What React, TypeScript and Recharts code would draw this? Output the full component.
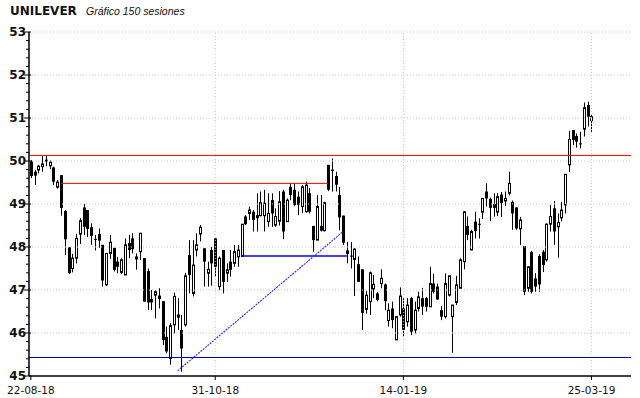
import { Bar, ComposedChart, ReferenceLine, XAxis, YAxis } from 'recharts'

// 150 sesiones, OHLC
const OPEN = [
  49.99, 49.75, 49.79, 49.87, 50.03, 49.89, 49.85, 49.39, 49.67, 48.84,
  47.99, 47.5, 47.74, 48.3, 48.92, 48.86, 48.46, 48.19, 48.3, 48.05,
  47.12, 47.85, 47.98, 47.66, 47.41, 47.35, 48.09, 48.2, 47.78, 47.89,
  47.74, 47.44, 46.79, 46.88, 46.87, 46.74, 45.91, 45.41, 46.19, 46.37,
  46.07, 46.19, 47.81, 46.92, 47.93, 48.3, 47.97, 47.39, 47.93, 48.2,
  47.08, 47.93, 47.39, 47.66, 47.62, 47.77, 47.78, 48.71, 48.78, 48.82,
  48.74, 48.73, 48.73, 48.59, 49.09, 48.51, 48.6, 49.29, 48.59, 49.4,
  49.33, 49.17, 48.94, 48.82, 49.25, 48.49, 48.16, 48.49, 48.38, 49.91,
  49.8, 49.65, 49.21, 48.73, 47.85, 47.8, 47.71, 47.6, 47.48, 46.55,
  46.73, 47.02, 46.92, 47.15, 47.13, 46.29, 46.57, 45.84, 46.42, 46.57,
  46.26, 46.81, 46.07, 46.57, 46.81, 46.81, 46.61, 47.15, 47.08, 46.53,
  46.38, 46.88, 46.38, 46.71, 47.04, 47.66, 48.49, 47.93, 48.59, 48.54,
  48.81, 49.29, 49.12, 49.0, 48.81, 49.22, 49.07, 49.25, 49.05, 48.92,
  48.42, 48.02, 47.04, 47.88, 47.27, 47.79, 47.89, 47.7, 48.53, 48.9,
  48.47, 48.68, 48.98, 49.91, 50.72, 50.58, 50.41, 50.74, 51.3, 50.94,
]
const HIGH = [
  50.02, 49.79, 49.91, 50.12, 50.12, 50.02, 49.87, 49.56, 49.67, 48.86,
  48.0, 47.84, 48.3, 48.67, 49.0, 48.86, 48.55, 48.28, 48.43, 48.05,
  47.85, 48.28, 47.98, 47.77, 47.74, 48.2, 48.28, 48.32, 47.85, 48.32,
  47.74, 47.5, 47.0, 47.0, 47.04, 46.74, 46.15, 46.23, 46.94, 46.81,
  46.42, 47.4, 48.16, 48.16, 48.32, 48.51, 47.97, 47.66, 48.0, 48.2,
  47.78, 47.93, 47.62, 47.93, 48.05, 48.05, 48.53, 48.74, 48.94, 48.86,
  49.25, 49.29, 49.33, 49.25, 49.25, 48.9, 49.3, 49.33, 49.13, 49.48,
  49.48, 49.29, 49.44, 49.52, 49.37, 48.49, 49.21, 49.21, 49.05, 49.91,
  50.06, 49.75, 49.4, 48.73, 48.12, 48.12, 47.97, 47.78, 47.48, 46.98,
  47.43, 47.35, 46.95, 47.48, 47.15, 46.69, 46.73, 46.38, 47.06, 46.81,
  46.81, 46.84, 46.73, 46.96, 47.05, 46.84, 47.54, 47.38, 47.15, 46.63,
  47.39, 47.33, 46.65, 47.33, 47.74, 48.82, 48.71, 48.4, 48.82, 48.67,
  49.13, 49.48, 49.15, 49.25, 49.25, 49.28, 49.29, 49.75, 49.08, 48.92,
  48.7, 48.02, 47.54, 47.91, 47.39, 47.83, 47.93, 48.55, 48.98, 49.07,
  48.78, 49.05, 49.69, 50.7, 50.72, 50.64, 50.68, 51.36, 51.38, 51.07,
]
const LOW = [
  49.6, 49.44, 49.71, 49.75, 49.88, 49.81, 49.44, 49.36, 48.73, 47.81,
  47.37, 47.41, 47.62, 48.07, 48.28, 48.23, 48.05, 47.92, 47.98, 47.08,
  47.09, 47.72, 47.43, 47.39, 47.37, 47.35, 47.74, 47.85, 47.47, 47.7,
  46.73, 46.53, 46.53, 46.34, 46.57, 45.72, 45.53, 45.26, 45.99, 46.07,
  45.1, 46.15, 46.92, 46.85, 47.78, 48.13, 47.08, 47.08, 47.1, 47.31,
  47.0, 46.92, 47.19, 47.31, 47.54, 47.54, 47.78, 48.51, 48.63, 48.36,
  48.36, 48.71, 48.36, 48.47, 48.47, 48.47, 48.5, 48.18, 48.59, 49.09,
  48.95, 48.74, 48.79, 48.8, 48.78, 47.89, 48.16, 48.36, 48.36, 49.3,
  49.29, 49.29, 48.39, 48.05, 47.62, 47.5, 46.86, 47.19, 46.07, 46.45,
  46.42, 46.81, 46.74, 47.04, 46.53, 46.15, 46.11, 45.84, 46.38, 45.92,
  46.15, 45.95, 45.99, 46.5, 46.42, 46.5, 46.61, 46.92, 46.77, 46.3,
  46.34, 46.85, 45.54, 46.65, 47.04, 47.48, 48.16, 47.93, 48.2, 48.2,
  48.65, 48.94, 48.6, 48.71, 48.72, 48.7, 48.95, 49.2, 48.4, 48.4,
  48.05, 46.88, 46.96, 46.92, 46.96, 46.96, 47.42, 47.66, 48.36, 48.05,
  47.75, 48.6, 48.78, 49.74, 50.37, 50.31, 50.29, 50.57, 50.8, 50.68,
]
const CLOSE = [
  49.65, 49.66, 49.88, 49.93, 49.99, 49.97, 49.52, 49.51, 48.91, 48.18,
  47.39, 47.74, 48.2, 48.61, 48.47, 48.42, 48.26, 48.18, 48.15, 47.22,
  47.85, 48.11, 47.47, 47.54, 47.7, 48.05, 47.93, 47.95, 47.71, 48.32,
  46.73, 46.71, 46.71, 46.96, 46.79, 45.84, 45.57, 46.17, 46.85, 46.42,
  45.64, 47.33, 47.35, 47.58, 48.05, 48.46, 47.66, 47.48, 47.62, 47.54,
  47.74, 47.19, 47.47, 47.47, 47.89, 47.93, 48.53, 48.53, 48.86, 48.63,
  48.67, 49.03, 49.02, 48.78, 48.78, 48.71, 49.05, 48.36, 49.09, 49.21,
  48.98, 48.98, 49.4, 49.44, 48.82, 48.16, 48.94, 48.38, 49.03, 49.33,
  49.77, 49.45, 48.69, 48.1, 47.91, 47.79, 47.95, 47.19, 46.47, 46.88,
  47.4, 47.13, 46.77, 47.27, 46.74, 46.53, 46.3, 46.38, 46.86, 46.07,
  46.65, 46.03, 46.53, 46.84, 46.61, 46.61, 47.15, 46.96, 46.78, 46.38,
  47.15, 47.33, 46.65, 47.12, 47.7, 48.82, 48.28, 48.36, 48.37, 48.52,
  49.13, 49.13, 48.91, 48.91, 49.17, 49.02, 49.13, 49.48, 48.78, 48.43,
  48.63, 46.96, 47.54, 46.96, 47.08, 47.13, 47.58, 48.53, 48.71, 48.36,
  48.57, 48.86, 49.69, 50.5, 50.49, 50.45, 50.39, 51.24, 51.03, 51.03,
]

const X_TICK_INDEX = [0, 49, 99, 149]
const X_TICK_LABELS = ['22-08-18', '31-10-18', '14-01-19', '25-03-19']
const Y_LABELS = [45, 46, 47, 48, 49, 50, 51, 52, 53]
const SLOTS = 160 // 150 sesiones + hueco a la derecha

// lineas dibujadas sobre el grafico
const RESISTANCE = 50.13
const SUPPORT = 45.43
const RED_LEVEL = { from: 8, to: 79, value: 49.48 }
const BLUE_LEVEL = { from: 56, to: 84, value: 47.79 }
const TREND = { from: 39, fromValue: 45.12, to: 83, toValue: 48.36 }

const Y_TICKS: number[] = []
for (let k = 0; k <= 40; k++) Y_TICKS.push(Math.round((45 + k * 0.2) * 10) / 10)

const data = Array.from({ length: SLOTS }, (_, i) =>
  i < OPEN.length
    ? { i, o: OPEN[i], h: HIGH[i], l: LOW[i], c: CLOSE[i], range: [LOW[i], HIGH[i]] }
    : { i },
)

const INK = '#111'
const GRID = '#cfc6cf'

function Candle(props: any) {
  const { x, y, width, height, payload } = props
  if (!payload || payload.h == null) return null
  const { o, h, l, c } = payload
  const span = h - l || 1
  const py = (v: number) => y + ((h - v) / span) * height
  const cx = Math.round(x + width / 2)
  const top = py(Math.max(o, c))
  const bot = py(Math.min(o, c))
  const up = c >= o
  return (
    <g>
      <line x1={cx + 0.5} x2={cx + 0.5} y1={y} y2={y + height} stroke="#000" strokeWidth={1} />
      {up ? (
        <rect x={cx - 0.5} y={top} width={2} height={Math.max(bot - top, 1)} fill="#fff" stroke="#000" strokeWidth={1} />
      ) : (
        <rect x={cx - 1} y={top} width={3} height={Math.max(bot - top, 1)} fill="#000" />
      )}
    </g>
  )
}

function YTick(props: any) {
  const { x, y, payload } = props
  const v = payload.value
  const major = Math.abs(v - Math.round(v)) < 1e-6
  if (!major) return <line x1={x - 3} x2={x} y1={y} y2={y} stroke="#000" />
  return (
    <g>
      <line x1={x - 5} x2={x + 2} y1={y} y2={y} stroke="#000" />
      <text x={x - 3} y={y} dy="0.36em" textAnchor="end" fill={INK} fontSize={12} fontWeight="bold" fontFamily="DejaVu Sans">
        {Math.round(v)}
      </text>
    </g>
  )
}

function XTick(props: any) {
  const { x, y, payload } = props
  const k = X_TICK_INDEX.indexOf(payload.value)
  if (k < 0) return null
  return (
    <g>
      <line x1={x} x2={x} y1={y} y2={y + 4} stroke="#000" />
      <text x={x} y={y + 18} textAnchor="middle" fill={INK} fontSize={10.5} fontFamily="DejaVu Sans">
        {X_TICK_LABELS[k]}
      </text>
    </g>
  )
}

export default function App() {
  return (
    <div style={{ position: 'absolute', left: 0, top: 0, width: 640, height: 398, background: '#fff' }}>
      <div style={{ position: 'absolute', left: 10, top: 5, fontFamily: 'DejaVu Sans', fontWeight: 'bold', fontSize: 12, lineHeight: 1, color: INK }}>
        UNILEVER
      </div>
      <div style={{ position: 'absolute', left: 86, top: 6, fontFamily: 'Liberation Sans', fontStyle: 'italic', fontSize: 10.5, lineHeight: 1, color: INK }}>
        Gráfico 150 sesiones
      </div>
      <ComposedChart width={640} height={398} data={data} margin={{ top: 32, right: 9, bottom: 0, left: 0 }}>
        <XAxis
          dataKey="i"
          type="category"
          interval={0}
          height={22}
          tick={<XTick />}
          tickLine={false}
          tickSize={0}
          tickMargin={0}
          axisLine={{ stroke: '#000', strokeWidth: 1.5 }}
        />
        <YAxis
          type="number"
          domain={[45, 53]}
          ticks={Y_TICKS}
          interval={0}
          width={29}
          allowDataOverflow
          tick={<YTick />}
          tickLine={false}
          tickSize={0}
          tickMargin={0}
          axisLine={{ stroke: '#000', strokeWidth: 1.5 }}
        />
        {Y_LABELS.slice(1).map((v) => (
          <ReferenceLine key={'gy' + v} y={v} stroke={GRID} strokeDasharray="1 2" />
        ))}
        {X_TICK_INDEX.slice(1).map((v) => (
          <ReferenceLine key={'gx' + v} x={v} stroke={GRID} strokeDasharray="1 2" />
        ))}
        <Bar dataKey="range" shape={<Candle />} isAnimationActive={false} />
        <ReferenceLine y={RESISTANCE} stroke="#f00000" strokeWidth={1} />
        <ReferenceLine y={SUPPORT} stroke="#0000b4" strokeWidth={1} />
        <ReferenceLine
          segment={[{ x: RED_LEVEL.from, y: RED_LEVEL.value }, { x: RED_LEVEL.to, y: RED_LEVEL.value }]}
          stroke="#f00000"
          strokeWidth={1}
        />
        <ReferenceLine
          segment={[{ x: BLUE_LEVEL.from, y: BLUE_LEVEL.value }, { x: BLUE_LEVEL.to, y: BLUE_LEVEL.value }]}
          stroke="#0000ff"
          strokeWidth={1.5}
        />
        <ReferenceLine
          segment={[{ x: TREND.from, y: TREND.fromValue }, { x: TREND.to, y: TREND.toValue }]}
          stroke="#2828ff"
          strokeWidth={1.1}
          strokeDasharray="2 1"
        />
      </ComposedChart>
    </div>
  )
}
